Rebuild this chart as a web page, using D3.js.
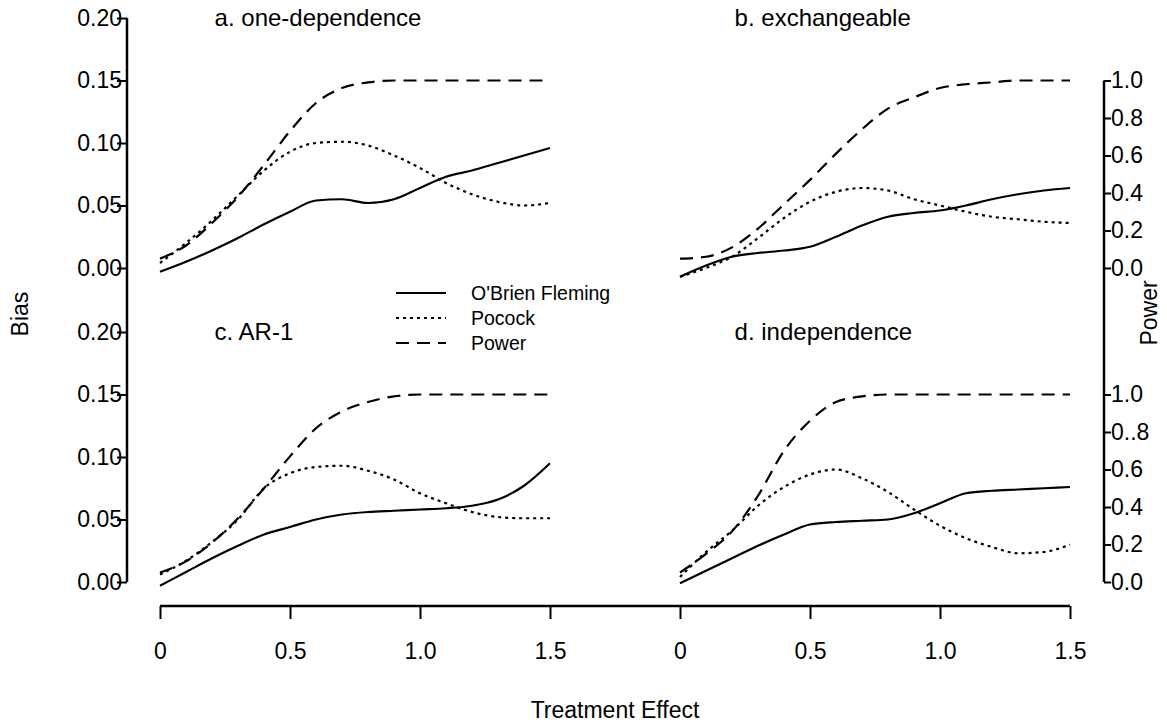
<!DOCTYPE html>
<html>
<head>
<meta charset="utf-8">
<script src="https://cdn.jsdelivr.net/npm/d3@7"></script>
<style>
	body { margin: 0; background: #fff; }
	svg { display: block; font-family: "Liberation Sans", Arial, Helvetica, sans-serif; }
	.tick text { fill: #000; }
</style>
</head>
<body>
<div id="chart-area"></div>
<script>
/* data, x = treatment effect */
const effects = [0, 0.1, 0.2, 0.3, 0.4, 0.5, 0.6, 0.7, 0.8, 0.9, 1.0, 1.1, 1.2, 1.3, 1.4, 1.5]

const panelTitles = ['a. one-dependence', 'b. exchangeable', 'c. AR-1', 'd. independence']
const seriesNames = ["O'Brien Fleming", 'Pocock', 'Power']

// a. one-dependence
const obfOneDep = [-0.003, 0.005, 0.014, 0.024, 0.035, 0.045, 0.054, 0.055, 0.052, 0.055, 0.064, 0.073, 0.078, 0.084, 0.090, 0.096]
const pocockOneDep = [0.004, 0.020, 0.038, 0.058, 0.078, 0.093, 0.100, 0.101, 0.098, 0.090, 0.080, 0.068, 0.059, 0.053, 0.050, 0.052]
const powerOneDep = [0.05, 0.12, 0.24, 0.38, 0.55, 0.73, 0.88, 0.96, 0.99, 1.0, 1.0, 1.0, 1.0, 1.0, 1.0, 1.0]

// b. exchangeable
const obfExch = [-0.007, 0.002, 0.009, 0.012, 0.014, 0.017, 0.025, 0.034, 0.041, 0.044, 0.046, 0.050, 0.055, 0.059, 0.062, 0.064]
const pocockExch = [-0.007, 0.000, 0.009, 0.024, 0.040, 0.053, 0.061, 0.064, 0.062, 0.055, 0.050, 0.045, 0.041, 0.039, 0.037, 0.036]
const powerExch = [0.05, 0.06, 0.11, 0.21, 0.34, 0.47, 0.61, 0.74, 0.85, 0.91, 0.96, 0.98, 0.99, 1.0, 1.0, 1.0]

// c. AR-1
const obfAr1 = [-0.003, 0.008, 0.019, 0.029, 0.038, 0.044, 0.050, 0.054, 0.056, 0.057, 0.058, 0.059, 0.061, 0.066, 0.077, 0.095]
const pocockAr1 = [0.006, 0.017, 0.032, 0.050, 0.075, 0.087, 0.092, 0.093, 0.089, 0.082, 0.071, 0.063, 0.056, 0.052, 0.051, 0.051]
const powerAr1 = [0.05, 0.11, 0.21, 0.34, 0.50, 0.67, 0.82, 0.91, 0.96, 0.99, 1.0, 1.0, 1.0, 1.0, 1.0, 1.0]

// d. independence
const obfIndep = [-0.001, 0.009, 0.019, 0.029, 0.038, 0.046, 0.048, 0.049, 0.050, 0.055, 0.063, 0.071, 0.073, 0.074, 0.075, 0.076]
const pocockIndep = [0.004, 0.024, 0.041, 0.061, 0.076, 0.086, 0.090, 0.083, 0.072, 0.058, 0.045, 0.035, 0.028, 0.023, 0.024, 0.030]
const powerIndep = [0.05, 0.15, 0.27, 0.46, 0.70, 0.86, 0.96, 0.99, 1.0, 1.0, 1.0, 1.0, 1.0, 1.0, 1.0, 1.0]

// tick labels
const xTicks = [0, 0.5, 1.0, 1.5]
const xTickLabels = ['0', '0.5', '1.0', '1.5']
const biasTicks = [0, 0.05, 0.10, 0.15, 0.20]
const biasTickLabels = ['0.00', '0.05', '0.10', '0.15', '0.20']
const powerTicks = [0, 0.2, 0.4, 0.6, 0.8, 1.0]
const powerTickLabelsTop = ['0.0', '0.2', '0.4', '0.6', '0.8', '1.0']
const powerTickLabelsBottom = ['0.0', '0.2', '0.4', '0.6', '0..8', '1.0']

/* Canvas */
const CANVAS_WIDTH = 1167
const CANVAS_HEIGHT = 723

const $svg = d3.select('#chart-area')
	.append('svg')
	.attr('width', CANVAS_WIDTH)
	.attr('height', CANVAS_HEIGHT)

/* Scales */
const xLeft = d3.scaleLinear().domain([0, 1.5]).range([160, 550])
const xRight = d3.scaleLinear().domain([0, 1.5]).range([680, 1070])
const biasTop = d3.scaleLinear().domain([0, 0.2]).range([268, 18])
const biasBottom = d3.scaleLinear().domain([0, 0.2]).range([582, 332])
// power 1.0 sits level with bias 0.15
const powerTop = d3.scaleLinear().domain([0, 1]).range([biasTop(0), biasTop(0.15)])
const powerBottom = d3.scaleLinear().domain([0, 1]).range([biasBottom(0), biasBottom(0.15)])

const panels = [
	{ title: panelTitles[0], x: xLeft, bias: biasTop, power: powerTop, obf: obfOneDep, pocock: pocockOneDep, pow: powerOneDep },
	{ title: panelTitles[1], x: xRight, bias: biasTop, power: powerTop, obf: obfExch, pocock: pocockExch, pow: powerExch },
	{ title: panelTitles[2], x: xLeft, bias: biasBottom, power: powerBottom, obf: obfAr1, pocock: pocockAr1, pow: powerAr1 },
	{ title: panelTitles[3], x: xRight, bias: biasBottom, power: powerBottom, obf: obfIndep, pocock: pocockIndep, pow: powerIndep },
]

const lineStyles = {
	obf: null,
	pocock: '3,4',
	pow: '13,8',
}

/* Curves */
const $curves = $svg.append('g')
	.attr('fill', 'none')
	.attr('stroke', '#000')
	.attr('stroke-width', 2.2)

panels.forEach(p => {
	const biasLine = d3.line()
		.x((d, i) => p.x(effects[i]))
		.y(d => p.bias(d))
		.curve(d3.curveMonotoneX)
	const powerLine = d3.line()
		.x((d, i) => p.x(effects[i]))
		.y(d => p.power(d))
		.curve(d3.curveMonotoneX)

	$curves.append('path').attr('d', biasLine(p.obf))
	$curves.append('path').attr('d', biasLine(p.pocock)).attr('stroke-dasharray', lineStyles.pocock)
	$curves.append('path').attr('d', powerLine(p.pow)).attr('stroke-dasharray', lineStyles.pow)

	$svg.append('text')
		.attr('x', p.x(0.21))
		.attr('y', p.bias(0.2) + 8)
		.attr('font-size', 24)
		.text(p.title)
})

/* Axes */
function styleAxis($g) {
	$g.select('.domain').remove()
	$g.selectAll('.tick line').attr('stroke', '#000').attr('stroke-width', 2)
	$g.selectAll('.tick text').attr('font-size', 23)
}

// bias (left)
const LEFT_X = 127
;[biasTop, biasBottom].forEach(scale => {
	$svg.append('g')
		.attr('transform', `translate(${LEFT_X}, 0)`)
		.call(d3.axisLeft(scale)
			.tickValues(biasTicks)
			.tickFormat((d, i) => biasTickLabels[i])
			.tickSize(10)
			.tickPadding(-5))
		.call(styleAxis)
})
$svg.append('line')
	.attr('x1', LEFT_X).attr('x2', LEFT_X)
	.attr('y1', biasTop(0.2)).attr('y2', biasBottom(0))
	.attr('stroke', '#000').attr('stroke-width', 2.5)

// power (right)
const RIGHT_X = 1104
;[[powerTop, powerTickLabelsTop], [powerBottom, powerTickLabelsBottom]].forEach(([scale, labels]) => {
	$svg.append('g')
		.attr('transform', `translate(${RIGHT_X}, 0)`)
		.call(d3.axisRight(scale)
			.tickValues(powerTicks)
			.tickFormat((d, i) => labels[i])
			.tickSize(7)
			.tickPadding(0))
		.call(styleAxis)
})
$svg.append('line')
	.attr('x1', RIGHT_X).attr('x2', RIGHT_X)
	.attr('y1', powerTop(1)).attr('y2', powerBottom(0))
	.attr('stroke', '#000').attr('stroke-width', 2.5)

// treatment effect (bottom)
const AXIS_Y = 606
;[xLeft, xRight].forEach(scale => {
	$svg.append('g')
		.attr('transform', `translate(0, ${AXIS_Y})`)
		.call(d3.axisBottom(scale)
			.tickValues(xTicks)
			.tickFormat((d, i) => xTickLabels[i])
			.tickSize(13)
			.tickPadding(24))
		.call(styleAxis)
})
$svg.append('line')
	.attr('x1', xLeft(0)).attr('x2', xRight(1.5))
	.attr('y1', AXIS_Y).attr('y2', AXIS_Y)
	.attr('stroke', '#000').attr('stroke-width', 2.5)

/* Axis labels */
$svg.append('text')
	.attr('transform', `translate(${(xLeft(0) + xRight(1.5)) / 2}, 718)`)
	.attr('text-anchor', 'middle')
	.attr('font-size', 23)
	.text('Treatment Effect')

$svg.append('text')
	.attr('transform', 'translate(28, 314) rotate(-90)')
	.attr('text-anchor', 'middle')
	.attr('font-size', 23)
	.text('Bias')

$svg.append('text')
	.attr('transform', 'translate(1157, 313) rotate(-90)')
	.attr('text-anchor', 'middle')
	.attr('font-size', 23)
	.text('Power')

/* Legend */
const $legend = $svg.append('g')
	.attr('transform', 'translate(396, 293)')

seriesNames.forEach((name, i) => {
	const key = ['obf', 'pocock', 'pow'][i]
	const $row = $legend.append('g')
		.attr('transform', `translate(0, ${i * 25})`)

	$row.append('line')
		.attr('x1', 0).attr('x2', 50)
		.attr('stroke', '#000')
		.attr('stroke-width', 2)
		.attr('stroke-dasharray', lineStyles[key])

	$row.append('text')
		.attr('x', 75)
		.attr('y', 7)
		.attr('font-size', 19.5)
		.text(name)
})
</script>
</body>
</html>
